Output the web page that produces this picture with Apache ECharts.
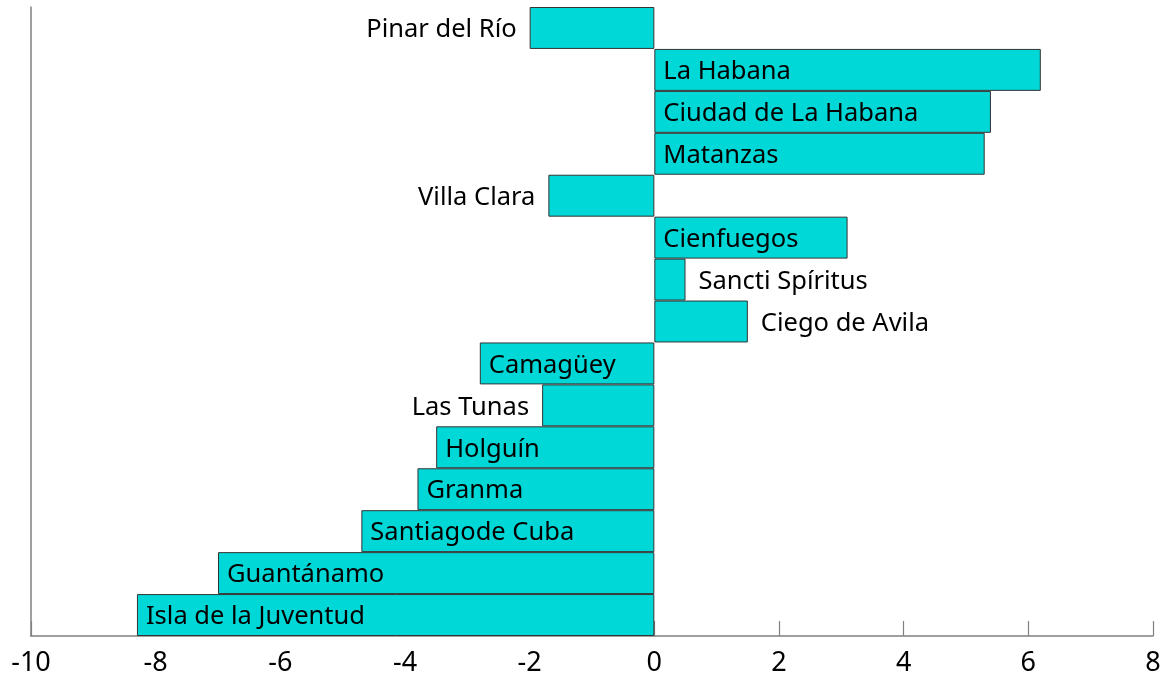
<!DOCTYPE html>
<meta charset="utf-8">
<style>
html, body { margin: 0; padding: 0; background: #fff; }
#main { width: 1165px; height: 682px; }
</style>
<div id="main"></div>
<script src="https://cdn.jsdelivr.net/npm/echarts@6/dist/echarts.min.js"></script>
<script>
var provinces = [
    'Pinar del Río', 'La Habana', 'Ciudad de La Habana', 'Matanzas', 'Villa Clara',
    'Cienfuegos', 'Sancti Spíritus', 'Ciego de Avila', 'Camagüey', 'Las Tunas',
    'Holguín', 'Granma', 'Santiagode Cuba', 'Guantánamo', 'Isla de la Juventud'
];
var values = [-2.0, 6.2, 5.4, 5.3, -1.7, 3.1, 0.5, 1.5, -2.8, -1.8, -3.5, -3.8, -4.7, -7.0, -8.3];
var xTicks = [-10, -8, -6, -4, -2, 0, 2, 4, 6, 8];

var FONT = 'Noto Sans';
var FONT_SIZE = 25.5;
var chart = echarts.init(document.getElementById('main'));

// decide per bar whether its name fits inside
var ctx = document.createElement('canvas').getContext('2d');
ctx.font = FONT_SIZE + 'px "' + FONT + '"';
var pxPerUnit = (1165 - 31 - 12) / (xTicks[xTicks.length - 1] - xTicks[0]);

var seriesData = values.map(function (v, i) {
    var barLen = Math.abs(v) * pxPerUnit;
    var textW = ctx.measureText(provinces[i]).width;
    var fits = textW + 18 < barLen;
    var pos = fits ? 'insideLeft' : (v < 0 ? 'left' : 'right');
    return {
        value: v,
        label: {
            position: pos,
            distance: fits ? 9 : 13
        }
    };
});

chart.setOption({
    animation: false,
    grid: { left: 31, right: 12, top: 7, bottom: 46 },
    xAxis: {
        type: 'value',
        min: -10,
        max: 8,
        interval: 2,
        splitLine: { show: false },
        axisLine: { show: true, lineStyle: { color: '#808080', width: 1.5 } },
        axisTick: { show: true, inside: true, length: 15, lineStyle: { color: '#808080', width: 1.2 } },
        axisLabel: {
            color: '#000',
            fontFamily: FONT,
            fontSize: 27,
            margin: 14
        }
    },
    yAxis: {
        type: 'category',
        data: provinces,
        inverse: true,
        axisLine: { show: true, onZero: false, lineStyle: { color: '#808080', width: 1.5 } },
        axisTick: { show: false },
        axisLabel: { show: false },
        splitLine: { show: false }
    },
    series: [{
        type: 'bar',
        data: seriesData,
        barCategoryGap: 0,
        itemStyle: {
            color: '#00d8d8',
            borderColor: '#333',
            borderWidth: 1
        },
        label: {
            show: true,
            formatter: function (p) { return provinces[p.dataIndex]; },
            color: '#000',
            fontFamily: FONT,
            fontSize: FONT_SIZE,
            offset: [0, 2]
        }
    }]
});
</script>
